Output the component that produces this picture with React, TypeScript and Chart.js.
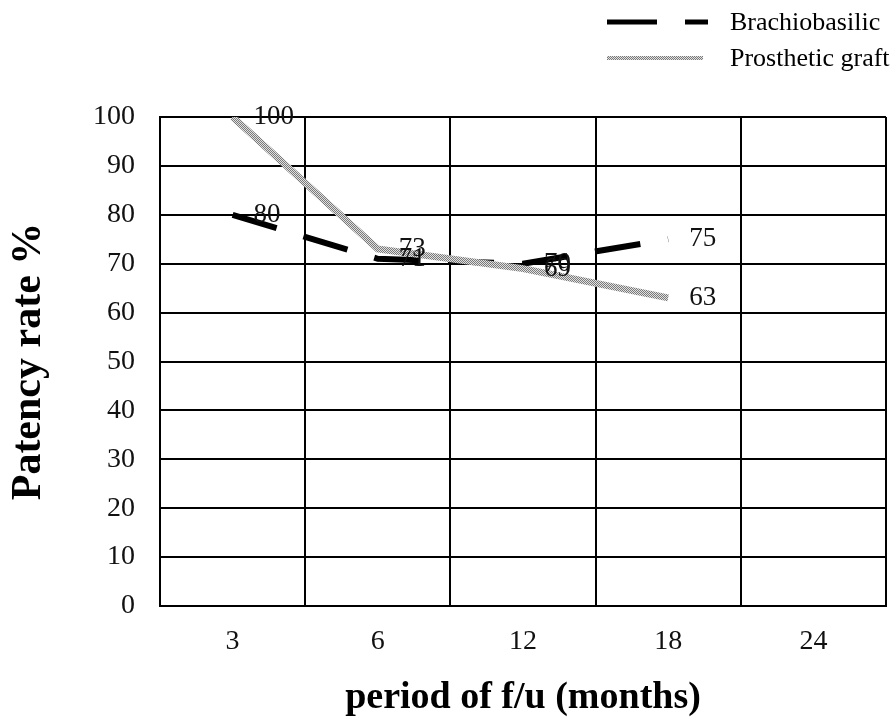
import React, { useEffect, useRef } from "react";
import { Chart, registerables } from "chart.js";

Chart.register(...registerables);

const categories = ["3", "6", "12", "18", "24"];
const brachioValues: (number | null)[] = [80, 71, 70, 75, null];
const graftValues: (number | null)[] = [100, 73, 69, 63, null];
const yTicks = [0, 10, 20, 30, 40, 50, 60, 70, 80, 90, 100];
const seriesNames = ["Brachiobasilic", "Prosthetic graft"];

function makePattern(): CanvasPattern | string {
  const c = document.createElement("canvas");
  c.width = 2;
  c.height = 2;
  const g = c.getContext("2d");
  if (!g) return "#aaaaaa";
  g.fillStyle = "#e0e0e0";
  g.fillRect(0, 0, 2, 2);
  g.fillStyle = "#7a7a7a";
  g.fillRect(0, 0, 1, 1);
  g.fillRect(1, 1, 1, 1);
  const p = g.createPattern(c, "repeat");
  return p || "#aaaaaa";
}

const SERIF = "'Liberation Serif', 'Times New Roman', serif";

export default function App() {
  const ref = useRef<HTMLCanvasElement | null>(null);

  useEffect(() => {
    if (!ref.current) return;
    const pattern = makePattern();

    const labelPlugin = {
      id: "valueLabels",
      afterDatasetsDraw(chart: any) {
        const ctx = chart.ctx;
        const xs = chart.scales.x;
        const ys = chart.scales.y;
        ctx.save();
        ctx.font = `27px ${SERIF}`;
        ctx.fillStyle = "#111";
        ctx.textAlign = "left";
        ctx.textBaseline = "middle";
        chart.data.datasets.forEach((ds: any) => {
          ds.data.forEach((v: number | null, i: number) => {
            if (v === null || v === undefined) return;
            const x = xs.getPixelForValue(i) + 21;
            const y = ys.getPixelForValue(v);
            ctx.fillText(String(v), x, y);
          });
        });
        ctx.restore();
      },
      afterDraw(chart: any) {
        const ctx = chart.ctx;
        ctx.save();
        ctx.strokeStyle = "#000";
        ctx.lineWidth = 5;
        ctx.lineCap = "butt";
        ctx.beginPath();
        ctx.moveTo(607, 22);
        ctx.lineTo(657, 22);
        ctx.moveTo(685, 22);
        ctx.lineTo(708, 22);
        ctx.stroke();
        ctx.strokeStyle = pattern as any;
        ctx.lineWidth = 4;
        ctx.beginPath();
        ctx.moveTo(607, 58);
        ctx.lineTo(703, 58);
        ctx.stroke();
        ctx.font = `26px ${SERIF}`;
        ctx.fillStyle = "#000";
        ctx.textAlign = "left";
        ctx.textBaseline = "middle";
        ctx.fillText(seriesNames[0], 730, 23);
        ctx.fillText(seriesNames[1], 730, 59);
        ctx.restore();
      },
    };

    const chart = new Chart(ref.current, {
      type: "line",
      data: {
        labels: categories,
        datasets: [
          {
            label: seriesNames[0],
            data: brachioValues,
            borderColor: "#000",
            borderWidth: 6,
            borderDash: [46, 28],
            borderCapStyle: "butt",
            pointRadius: 0,
            tension: 0,
            fill: false,
            order: 1,
          },
          {
            label: seriesNames[1],
            data: graftValues,
            borderColor: pattern as any,
            borderWidth: 7,
            pointRadius: 0,
            tension: 0,
            fill: false,
            order: 0,
          },
        ],
      },
      options: {
        responsive: false,
        animation: false,
        devicePixelRatio: 1,
        layout: { padding: { top: 117, right: 8, left: 0, bottom: 0 } },
        plugins: {
          legend: { display: false },
          tooltip: { enabled: false },
          title: { display: false },
        },
        scales: {
          x: {
            type: "category",
            offset: true,
            grid: {
              offset: true,
              color: "#000",
              lineWidth: 2,
              drawTicks: false,
            },
            border: { color: "#000", width: 2 },
            ticks: {
              color: "#111",
              font: { family: SERIF, size: 28 },
              padding: 19,
              maxRotation: 0,
            },
            title: {
              display: true,
              text: "period of f/u (months)",
              color: "#000",
              font: { family: SERIF, size: 38, weight: "bold", lineHeight: 1 },
              padding: { top: 0, bottom: 0 },
            },
            afterFit(scale: any) {
              scale.height = 111;
            },
          },
          y: {
            min: 0,
            max: 100,
            afterBuildTicks(scale: any) {
              scale.ticks = yTicks.map((v) => ({ value: v }));
            },
            grid: {
              color: "#000",
              lineWidth: 2,
              drawTicks: false,
            },
            border: { color: "#000", width: 2 },
            ticks: {
              color: "#111",
              font: { family: SERIF, size: 28 },
              padding: 25,
            },
            title: {
              display: true,
              text: "Patency rate %",
              color: "#000",
              font: { family: SERIF, size: 42, weight: "bold", lineHeight: 1 },
              padding: { top: 8, bottom: 0 },
            },
            afterFit(scale: any) {
              scale.width = 160;
            },
          },
        },
      },
      plugins: [labelPlugin],
    } as any);

    return () => chart.destroy();
  }, []);

  return (
    <div style={{ position: "fixed", left: 0, top: 0, width: 894, height: 717, background: "#fff" }}>
      <canvas ref={ref} width={894} height={717} style={{ width: 894, height: 717, display: "block" }} />
    </div>
  );
}
